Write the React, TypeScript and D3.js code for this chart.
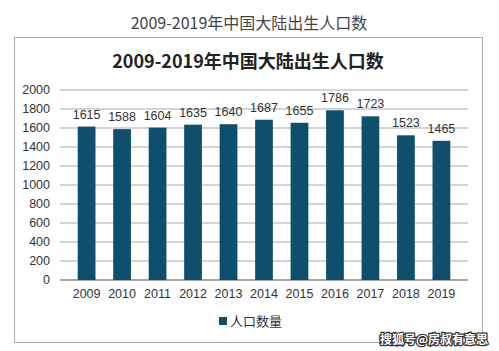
import { scaleBand, scaleLinear } from "d3";

const width = 499;
const height = 351;
const margin = { top: 90, right: 31, bottom: 71, left: 60 };
const innerWidth = width - margin.left - margin.right;
const innerHeight = height - margin.top - margin.bottom;

const years = ["2009", "2010", "2011", "2012", "2013", "2014", "2015", "2016", "2017", "2018", "2019"];
const births = [1615, 1588, 1604, 1635, 1640, 1687, 1655, 1786, 1723, 1523, 1465];
const yTicks = [0, 200, 400, 600, 800, 1000, 1200, 1400, 1600, 1800, 2000];
const titleText = "2009-2019年中国大陆出生人口数";
const legendLabel = "人口数量";
const watermark = "搜狐号@房叔有意思";

const barColor = "#0d4f6d";
const font = "'Liberation Sans', Arial, sans-serif";
const cjk = "'Noto Sans CJK SC', sans-serif";

export default function App() {
    const xScale = scaleBand<string>().domain(years).range([0, innerWidth]).padding(0.5);
    const yScale = scaleLinear().domain([0, 2000]).range([innerHeight, 0]);

    return (
        <svg width={width} height={height} style={{ position: "absolute", left: 0, top: 0 }}>
            <rect width={width} height={height} fill="#fff" />
            <text x={249} y={29} textAnchor="middle" fontSize={16} fill="#444" fontFamily={cjk}>
                {titleText}
            </text>
            <rect x={14.5} y={37.5} width={468} height={305} fill="#fff" stroke="#aaa" />
            <text x={248} y={68} textAnchor="middle" fontSize={18} fontWeight="bold" fill="#222" fontFamily={cjk}>
                {titleText}
            </text>
            <g transform={`translate(${margin.left},${margin.top})`}>
                {yTicks.map((t) => (
                    <g key={t} transform={`translate(0,${yScale(t)})`}>
                        <line x1={0} x2={innerWidth} stroke={t === 0 ? "#888" : "#aaa"} strokeWidth={t === 0 ? 1.5 : 1} />
                        <text x={-10} dy="0.35em" textAnchor="end" fontSize={12.5} fill="#333" fontFamily={font}>
                            {t}
                        </text>
                    </g>
                ))}
                {births.map((v, i) => (
                    <g key={years[i]}>
                        <rect
                            x={xScale(years[i])}
                            y={yScale(v)}
                            width={xScale.bandwidth()}
                            height={innerHeight - yScale(v)}
                            fill={barColor}
                        />
                        <text
                            x={(xScale(years[i]) ?? 0) + xScale.bandwidth() / 2}
                            y={yScale(v) - 8}
                            textAnchor="middle"
                            fontSize={12.5}
                            fill="#333"
                            fontFamily={font}
                        >
                            {v}
                        </text>
                    </g>
                ))}
                {years.map((y) => (
                    <text
                        key={y}
                        x={(xScale(y) ?? 0) + xScale.bandwidth() / 2}
                        y={innerHeight + 18}
                        textAnchor="middle"
                        fontSize={12.5}
                        fill="#333"
                        fontFamily={font}
                    >
                        {y}
                    </text>
                ))}
            </g>
            <rect x={219} y={317} width={8} height={8} fill={barColor} />
            <text x={230} y={326} fontSize={13} fill="#333" fontFamily={cjk}>
                {legendLabel}
            </text>
            <text
                x={488}
                y={344}
                textAnchor="end"
                fontSize={12}
                fontWeight="bold"
                fill="#fff"
                stroke="#333"
                strokeWidth={2.5}
                paintOrder="stroke"
                fontFamily={cjk}
            >
                {watermark}
            </text>
        </svg>
    );
}
